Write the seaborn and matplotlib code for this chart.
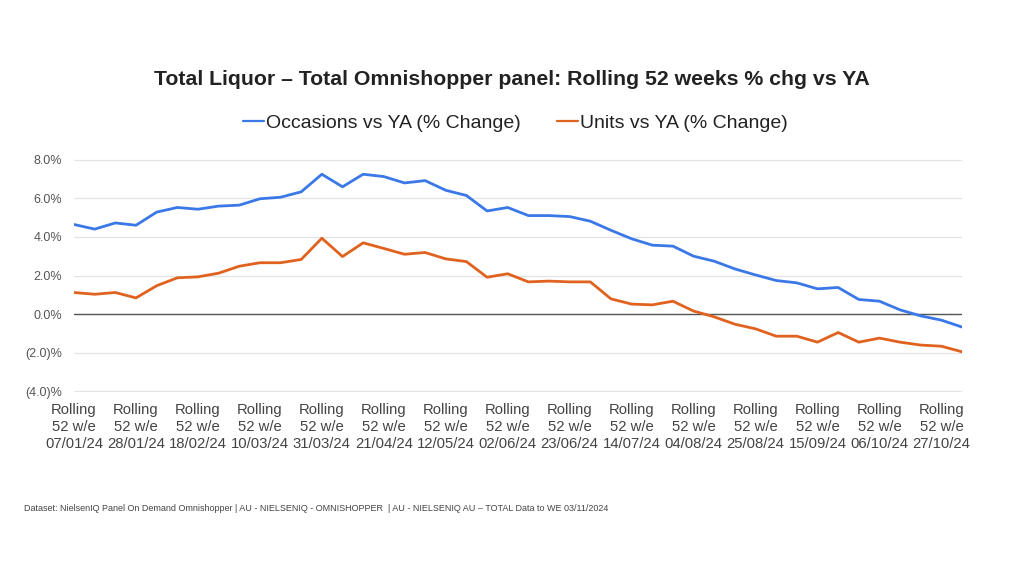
import pandas as pd
import matplotlib.pyplot as plt
import seaborn as sns
from matplotlib.ticker import FuncFormatter

# Weekly rolling 52 w/e dates (07/01/24 .. 03/11/24)
weeks = pd.date_range("2024-01-07", "2024-11-03", freq="7D")

occasions = [4.64, 4.40, 4.72, 4.60, 5.28, 5.52, 5.43, 5.59, 5.64, 5.97,
             6.05, 6.33, 7.24, 6.59, 7.24, 7.12, 6.79, 6.91, 6.41, 6.14,
             5.34, 5.52, 5.10, 5.10, 5.05, 4.81, 4.34, 3.90, 3.57, 3.52,
             3.00, 2.74, 2.34, 2.03, 1.74, 1.62, 1.31, 1.38, 0.76, 0.67,
             0.22, -0.09, -0.31, -0.67]
units = [1.12, 1.03, 1.12, 0.84, 1.47, 1.88, 1.93, 2.12, 2.48, 2.66,
         2.66, 2.83, 3.93, 2.98, 3.69, 3.40, 3.10, 3.19, 2.86, 2.72,
         1.91, 2.09, 1.67, 1.71, 1.67, 1.67, 0.79, 0.52, 0.48, 0.67,
         0.16, -0.14, -0.52, -0.76, -1.14, -1.14, -1.45, -0.95, -1.45, -1.24,
         -1.45, -1.60, -1.66, -1.95]

series_names = ["Occasions vs YA (% Change)", "Units vs YA (% Change)"]
colors = ["#3B78E7", "#E0621E"]

df = pd.DataFrame({
    "idx": list(range(len(weeks))) * 2,
    "value": occasions + units,
    "series": [series_names[0]] * len(weeks) + [series_names[1]] * len(weeks),
})

sns.set_theme(style="white")
plt.rcParams["font.family"] = ["Liberation Sans", "DejaVu Sans"]

fig = plt.figure(figsize=(10.24, 5.76), dpi=100)
ax = fig.add_axes([0.0723, 0.3194, 0.8672, 0.4046])

sns.lineplot(data=df, x="idx", y="value", hue="series", palette=colors,
             linewidth=2.0, ax=ax, legend=False)

ax.set_xlim(0, len(weeks) - 1)
ax.set_ylim(-4.03, 8.03)
ax.set_yticks([-4, -2, 0, 2, 4, 6, 8])
ax.yaxis.set_major_formatter(FuncFormatter(
    lambda v, _: f"({abs(v):.1f})%" if v < 0 else f"{v:.1f}%"))
ax.grid(axis="y", color="#E3E3E3", linewidth=0.9)
ax.axhline(0, color="#555555", linewidth=1.0, zorder=1)
for s in ax.spines.values():
    s.set_visible(False)

tick_idx = list(range(0, len(weeks) - 1, 3))
ax.set_xticks(tick_idx)
ax.set_xticklabels([f"Rolling\n52 w/e\n{weeks[i].strftime('%d/%m/%y')}" for i in tick_idx],
                   fontsize=10.7, color="#444444", linespacing=1.28)
ax.tick_params(axis="y", labelsize=9, colors="#555555", pad=8.5, length=0)
ax.tick_params(axis="x", length=0, pad=8)
ax.set_xlabel("")
ax.set_ylabel("")

fig.text(0.5, 0.862, "Total Liquor \u2013 Total Omnishopper panel: Rolling 52 weeks % chg vs YA",
         ha="center", va="center", fontsize=15.3, fontweight="bold", color="#222222")

# legend
handles = [plt.Line2D([], [], color=c, linewidth=1.6) for c in colors]
fig.legend(handles, series_names, loc="center", bbox_to_anchor=(0.503, 0.786),
           ncol=2, frameon=False, fontsize=14, handlelength=1.1, handletextpad=0.1,
           columnspacing=1.85, labelcolor="#222222")

fig.text(0.0235, 0.118,
         "Dataset: NielsenIQ Panel On Demand Omnishopper | AU - NIELSENIQ - OMNISHOPPER  | "
         "AU - NIELSENIQ AU \u2013 TOTAL Data to WE 03/11/2024",
         ha="left", va="center", fontsize=6.48, color="#444444")

fig.savefig("out.png", dpi=100, facecolor="white")
